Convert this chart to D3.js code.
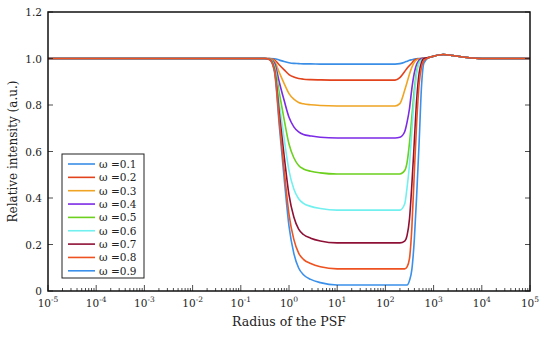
<!DOCTYPE html>
<html>
<head>
<meta charset="utf-8">
<script src="https://cdn.jsdelivr.net/npm/d3@7"></script>
<style>
  body { margin: 0; background: #fff; }
</style>
</head>
<body>
<div id="chart"></div>
<script>
// radius of the PSF (sample positions)
const radius = [1e-5, 0.316, 0.398, 0.501, 0.631, 0.794, 1, 1.259, 1.585, 1.995, 2.818, 4.467, 10,
  100, 158.5, 199.5, 251.2, 281.8, 316.2, 354.8, 398.1, 446.7, 501.2, 562.3, 631, 794.3,
  1000, 1585, 2512, 5012, 10000, 1e5];

const bump = [1.004, 1.01, 1.017, 1.013, 1.004, 1.0, 1.0];

const omegas = ['ω =0.1', 'ω =0.2', 'ω =0.3', 'ω =0.4', 'ω =0.5', 'ω =0.6', 'ω =0.7', 'ω =0.8', 'ω =0.9'];
const colors = ['#3a8ee6', '#e2421c', '#f0a424', '#7b2ae6', '#6cd01e', '#72f0f0', '#8e1036', '#ee5220', '#3a90ea'];

const w01 = [1, 1, 1, 0.999, 0.993, 0.987, 0.982, 0.979, 0.978, 0.977, 0.977, 0.976, 0.976,
  0.976, 0.976, 0.978, 0.984, 0.988, 0.992, 0.995, 0.998, 0.999, 1.0, 1.0, 1.001, ...bump];
const w02 = [1, 1, 1, 0.994, 0.972, 0.951, 0.931, 0.920, 0.914, 0.911, 0.909, 0.908, 0.907,
  0.907, 0.907, 0.918, 0.944, 0.958, 0.970, 0.981, 0.993, 0.997, 0.999, 1.0, 1.001, ...bump];
const w03 = [1, 1, 0.999, 0.988, 0.939, 0.892, 0.849, 0.825, 0.811, 0.805, 0.801, 0.798, 0.796,
  0.796, 0.796, 0.806, 0.863, 0.898, 0.933, 0.963, 0.984, 0.994, 0.998, 1.0, 1.001, ...bump];
const w04 = [1, 1, 0.998, 0.980, 0.897, 0.819, 0.747, 0.706, 0.684, 0.673, 0.667, 0.661, 0.658,
  0.658, 0.658, 0.661, 0.685, 0.726, 0.785, 0.873, 0.938, 0.976, 0.993, 1.0, 1.001, ...bump];
const w05 = [1, 1, 0.998, 0.970, 0.851, 0.737, 0.632, 0.573, 0.540, 0.525, 0.515, 0.508, 0.503,
  0.503, 0.503, 0.503, 0.518, 0.553, 0.637, 0.752, 0.866, 0.950, 0.985, 0.995, 1.001, ...bump];
const w06 = [1, 1, 0.997, 0.961, 0.804, 0.654, 0.518, 0.439, 0.397, 0.377, 0.364, 0.355, 0.348,
  0.348, 0.348, 0.348, 0.374, 0.446, 0.544, 0.694, 0.837, 0.935, 0.980, 0.993, 1.001, ...bump];
const w07 = [1, 1, 0.996, 0.952, 0.762, 0.580, 0.413, 0.318, 0.266, 0.243, 0.227, 0.215, 0.207,
  0.207, 0.207, 0.207, 0.215, 0.239, 0.310, 0.461, 0.643, 0.826, 0.937, 0.984, 1.001, ...bump];
const w08 = [1, 1, 0.995, 0.946, 0.729, 0.520, 0.330, 0.222, 0.163, 0.136, 0.118, 0.104, 0.095,
  0.095, 0.095, 0.095, 0.095, 0.104, 0.140, 0.276, 0.511, 0.729, 0.891, 0.964, 0.991, ...bump];
const w09 = [1, 1, 0.995, 0.942, 0.708, 0.484, 0.279, 0.162, 0.099, 0.070, 0.050, 0.036, 0.026,
  0.026, 0.026, 0.026, 0.026, 0.026, 0.045, 0.094, 0.221, 0.416, 0.640, 0.883, 0.981, ...bump];

const series = [w01, w02, w03, w04, w05, w06, w07, w08, w09];
// drawing order: the orange-red 0.8 curve ends up on top of the shared line
const drawOrder = [0, 1, 2, 3, 4, 5, 6, 8, 7];

const xExps = [-5, -4, -3, -2, -1, 0, 1, 2, 3, 4, 5];
const yTicks = [0, 0.2, 0.4, 0.6, 0.8, 1.0, 1.2];
const yLabels = ['0', '0.2', '0.4', '0.6', '0.8', '1.0', '1.2'];

const width = 545, height = 338;
const margin = { top: 12, right: 15, bottom: 47, left: 48 };
const FONT = 'DejaVu Serif, serif';

const svg = d3.select('#chart').append('svg')
  .attr('width', width)
  .attr('height', height)
  .attr('font-family', FONT);

const x = d3.scaleLog()
  .domain([1e-5, 1e5])
  .range([margin.left, width - margin.right]);
const y = d3.scaleLinear()
  .domain([0, 1.2])
  .range([height - margin.bottom, margin.top]);

const plotBottom = height - margin.bottom;
const plotRight = width - margin.right;

svg.append('defs').append('clipPath').attr('id', 'clip')
  .append('rect')
  .attr('x', margin.left).attr('y', margin.top)
  .attr('width', plotRight - margin.left).attr('height', plotBottom - margin.top);

// curves
const line = d3.line()
  .x((d, i) => x(radius[i]))
  .y(d => y(d))
  .curve(d3.curveMonotoneX);

const g = svg.append('g').attr('clip-path', 'url(#clip)');
drawOrder.forEach(k => {
  g.append('path')
    .attr('d', line(series[k]))
    .attr('fill', 'none')
    .attr('stroke', colors[k])
    .attr('stroke-width', 1.6);
});

// minor + major ticks on x (inward)
const minor = [];
for (let e = -5; e < 5; e++) {
  for (let m = 2; m <= 9; m++) minor.push(m * Math.pow(10, e));
}
svg.append('g').selectAll('line')
  .data(minor).enter().append('line')
  .attr('x1', d => x(d)).attr('x2', d => x(d))
  .attr('y1', plotBottom).attr('y2', plotBottom - 3)
  .attr('stroke', '#222').attr('stroke-width', 0.8);
svg.append('g').selectAll('line')
  .data(xExps).enter().append('line')
  .attr('x1', d => x(Math.pow(10, d))).attr('x2', d => x(Math.pow(10, d)))
  .attr('y1', plotBottom).attr('y2', plotBottom - 6)
  .attr('stroke', '#222').attr('stroke-width', 0.8);

// y ticks (inward, both sides)
svg.append('g').selectAll('line')
  .data(yTicks).enter().append('line')
  .attr('x1', margin.left).attr('x2', margin.left + 5)
  .attr('y1', d => y(d)).attr('y2', d => y(d))
  .attr('stroke', '#222').attr('stroke-width', 0.8);
svg.append('g').selectAll('line')
  .data(yTicks).enter().append('line')
  .attr('x1', plotRight).attr('x2', plotRight - 5)
  .attr('y1', d => y(d)).attr('y2', d => y(d))
  .attr('stroke', '#222').attr('stroke-width', 0.8);

// frame
svg.append('rect')
  .attr('x', margin.left).attr('y', margin.top)
  .attr('width', plotRight - margin.left).attr('height', plotBottom - margin.top)
  .attr('fill', 'none').attr('stroke', '#111').attr('stroke-width', 1.5);

// x tick labels 10^n
const xl = svg.append('g').selectAll('text')
  .data(xExps).enter().append('text')
  .attr('x', d => x(Math.pow(10, d)))
  .attr('y', plotBottom + 16)
  .attr('text-anchor', 'middle')
  .attr('fill', '#222')
  .attr('font-size', 10.5);
xl.append('tspan').text('10');
xl.append('tspan').attr('dy', -5).attr('font-size', 7.5).text(d => d);

// y tick labels
svg.append('g').selectAll('text')
  .data(yTicks).enter().append('text')
  .attr('x', margin.left - 6)
  .attr('y', d => y(d) + 4)
  .attr('text-anchor', 'end')
  .attr('fill', '#222')
  .attr('font-size', 10.5)
  .text((d, i) => yLabels[i]);

// axis titles
svg.append('text')
  .attr('x', (margin.left + plotRight) / 2)
  .attr('y', 326)
  .attr('text-anchor', 'middle')
  .attr('fill', '#222')
  .attr('font-size', 12.5)
  .text('Radius of the PSF');
svg.append('text')
  .attr('transform', `translate(17,${(margin.top + plotBottom) / 2}) rotate(-90)`)
  .attr('text-anchor', 'middle')
  .attr('fill', '#222')
  .attr('font-size', 12)
  .text('Relative intensity (a.u.)');

// legend
const leg = svg.append('g');
leg.append('rect')
  .attr('x', 62).attr('y', 154).attr('width', 82).attr('height', 124)
  .attr('fill', '#fff').attr('stroke', '#222').attr('stroke-width', 1);
omegas.forEach((name, k) => {
  const ly = 164 + k * 13.35;
  leg.append('line')
    .attr('x1', 68).attr('x2', 95)
    .attr('y1', ly).attr('y2', ly)
    .attr('stroke', colors[k]).attr('stroke-width', 1.6);
  leg.append('text')
    .attr('x', 99).attr('y', ly + 4)
    .attr('fill', '#222')
    .attr('font-size', 10.5)
    .text(name);
});
</script>
</body>
</html>
